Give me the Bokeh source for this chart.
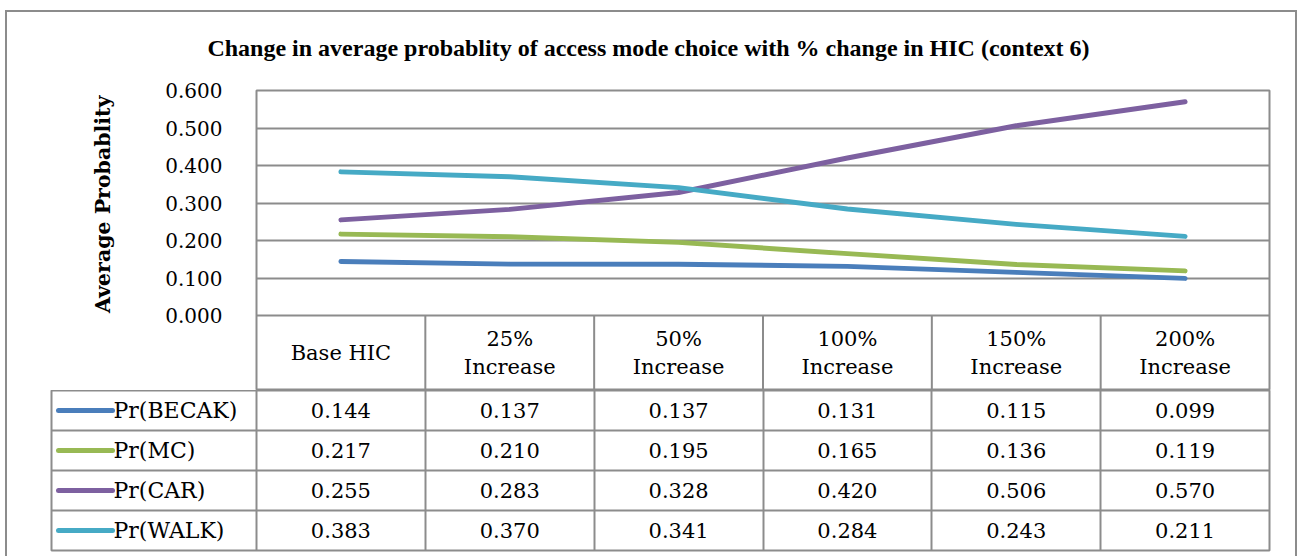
from bokeh.plotting import figure
from bokeh.models import FixedTicker, NumeralTickFormatter, Range1d, Title
from bokeh.layouts import column
from bokeh.embed import file_html
from bokeh.resources import INLINE
from bokeh.core.properties import value

# ---------------- data ----------------
title_text = "Change in average probablity of access  mode choice with % change in HIC (context 6)"
y_label = "Average Probablity"
categories = ["Base HIC", "25%\nIncrease", "50%\nIncrease", "100%\nIncrease",
              "150%\nIncrease", "200%\nIncrease"]
series_names = ["Pr(BECAK)", "Pr(MC)", "Pr(CAR)", "Pr(WALK)"]
becak = [0.144, 0.137, 0.137, 0.131, 0.115, 0.099]
mc = [0.217, 0.210, 0.195, 0.165, 0.136, 0.119]
car = [0.255, 0.283, 0.328, 0.420, 0.506, 0.570]
walk = [0.383, 0.370, 0.341, 0.284, 0.243, 0.211]
y_ticks = [0.0, 0.1, 0.2, 0.3, 0.4, 0.5, 0.6]

series_values = [becak, mc, car, walk]
colors = ["#4A7EBB", "#98B954", "#7D60A0", "#46AAC5"]

# ---------------- style ----------------
GRID = "#8c8c8c"
SERIF = "DejaVu Serif"
W = 1288
LEFT_A, RIGHT = 249, 26
LEFT_B = 44
n = len(categories)
nrows = len(series_names)
xc = [i + 0.5 for i in range(n)]
unit = (W - LEFT_A - RIGHT) / n                 # px per category
legend_w = (LEFT_A - LEFT_B) / unit             # legend column width in x-units
header_depth = 0.2                              # header row height in y-units


def no_align(f):
    if "frame_align" in f.properties():
        f.frame_align = False


# ---------------- title strip ----------------
t = figure(width=W, height=66, output_backend="svg", toolbar_location=None,
           x_range=Range1d(0, 1), y_range=Range1d(0, 66),
           min_border_left=0, min_border_right=0, min_border_top=0, min_border_bottom=0)
t.axis.visible = False
t.grid.visible = False
t.outline_line_color = None
t.text(x=[0.5], y=[31], text=[title_text], text_align="center", text_baseline="middle",
       text_font=value("Liberation Serif"), text_font_style="bold", text_font_size="24px",
       text_color="black")
no_align(t)

# ---------------- chart (with header row) ----------------
p = figure(width=W, height=312, output_backend="svg", toolbar_location=None,
           x_range=Range1d(0, n), y_range=Range1d(-header_depth, y_ticks[-1]),
           min_border_left=LEFT_A, min_border_right=RIGHT, min_border_top=12,
           min_border_bottom=0)
p.xaxis.visible = False
p.xgrid.visible = False
p.outline_line_color = GRID
p.outline_line_width = 2
no_align(p)

ya = p.yaxis[0]
ya.ticker = FixedTicker(ticks=y_ticks)
ya.formatter = NumeralTickFormatter(format="0.000")
ya.axis_line_color = None
ya.major_tick_line_color = None
ya.minor_tick_line_color = None
ya.major_label_standoff = 28
ya.major_label_text_font = SERIF
ya.major_label_text_font_size = "20px"
ya.major_label_text_color = "black"

# y-axis title, anchored to the top of the value area
p.add_layout(Title(text=y_label, align="right", offset=5, vertical_align="middle",
                   standoff=94, text_font=SERIF, text_font_style="bold",
                   text_font_size="20.5px", text_color="black"), "left")

p.ygrid.ticker = FixedTicker(ticks=y_ticks)
p.ygrid.grid_line_color = GRID
p.ygrid.grid_line_width = 2

# header column separators
bx = list(range(1, n))
p.segment(x0=bx, y0=[-header_depth] * len(bx), x1=bx, y1=[0] * len(bx),
          line_color=GRID, line_width=2)
# header labels
p.text(x=xc, y=[-header_depth / 2] * n, text=categories, text_align="center",
       text_baseline="middle", text_font=value(SERIF), text_font_size="21px",
       text_line_height=1.15, text_color="black")

for vals, col in zip(series_values, colors):
    p.line(xc, vals, line_color=col, line_width=5, line_cap="round", line_join="round")

# ---------------- data table ----------------
q = figure(width=W, height=166, output_backend="svg", toolbar_location=None,
           x_range=Range1d(-legend_w, n), y_range=Range1d(0, nrows),
           min_border_left=LEFT_B, min_border_right=RIGHT, min_border_top=0,
           min_border_bottom=6)
q.xaxis.visible = False
q.yaxis.visible = False
q.outline_line_color = GRID
q.outline_line_width = 2
q.xgrid.ticker = FixedTicker(ticks=list(range(0, n)))
q.ygrid.ticker = FixedTicker(ticks=list(range(1, nrows)))
for g in (q.xgrid[0], q.ygrid[0]):
    g.grid_line_color = GRID
    g.grid_line_width = 2
no_align(q)

for i, (name, vals, col) in enumerate(zip(series_names, series_values, colors)):
    yc = nrows - i - 0.5
    q.text(x=xc, y=[yc] * n, text=[f"{v:.3f}" for v in vals], text_align="center",
           text_baseline="middle", text_font=value(SERIF), text_font_size="21px",
           text_color="black")
    q.segment(x0=[-legend_w + 7 / unit], y0=[yc], x1=[-legend_w + 61 / unit], y1=[yc],
              line_color=col, line_width=5, line_cap="round")
    q.text(x=[-legend_w + 62 / unit], y=[yc], text=[name], text_align="left",
           text_baseline="middle", text_font=value(SERIF), text_font_size="22px",
           text_color="black")

layout = column(t, p, q, styles={"margin-left": "5px", "margin-top": "10px",
                                 "border-top": "2px solid #8c8c8c",
                                 "border-left": "2px solid #8c8c8c",
                                 "border-right": "2px solid #8c8c8c"})

open("out.html", "w").write(file_html(layout, INLINE))
